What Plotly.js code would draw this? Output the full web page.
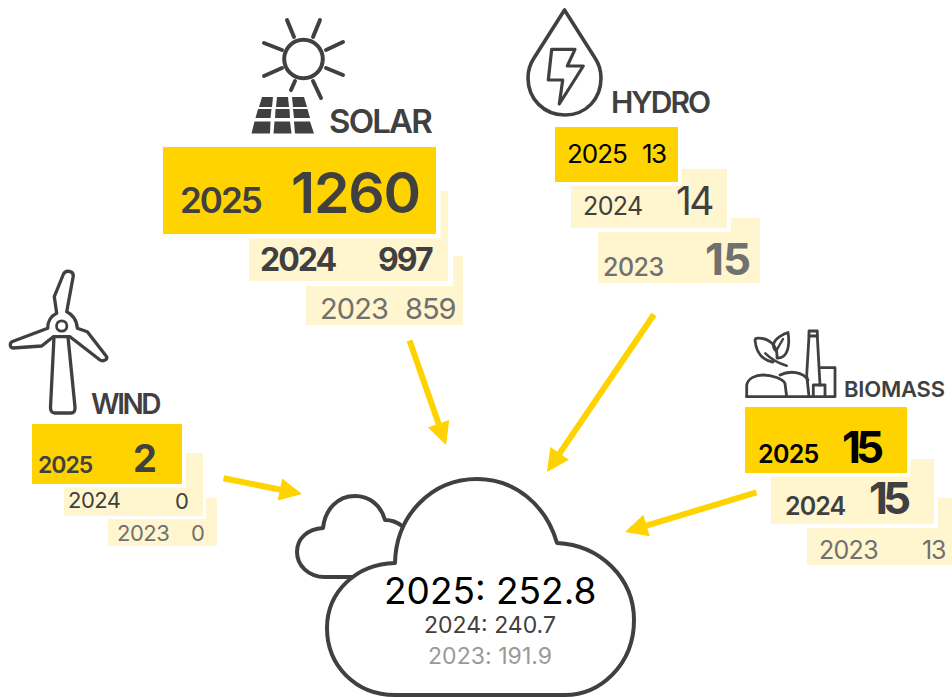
<!DOCTYPE html>
<html><head><meta charset="utf-8">
<script src="https://cdn.plot.ly/plotly-3.0.1.min.js"></script>
<style>
html,body{margin:0;padding:0;background:#fff;overflow:hidden}
#chart{width:952px;height:697px}
.shapelayer path{stroke-linecap:round;stroke-linejoin:round}
</style></head><body><div id="chart"></div>
<script>
// ---- data ----
const categories = ['SOLAR', 'HYDRO', 'WIND', 'BIOMASS'];
const years = ['2025', '2024', '2023'];
const solarValues = ['1260', '997', '859'];
const hydroValues = ['13', '14', '15'];
const windValues = ['2', '0', '0'];
const biomassValues = ['15', '15', '13'];
const totalValues = ['252.8', '240.7', '191.9'];

// ---- styles and placement ----
const YELLOW = '#FFD300', PALE = '#FFF5CF', DARK = '#404040', GREY = '#707070', LIGHT = '#999999', BLACK = '#000000';
const FONT = 'Inter, "Liberation Sans", sans-serif';

const shapes = [], annotations = [];
function rect(x0, y0, x1, y1, color) {
  shapes.push({type: 'rect', xref: 'x', yref: 'y', x0, y0, x1, y1, fillcolor: color, line: {width: 0}, layer: 'below'});
}
function stroke(path, w) {
  shapes.push({type: 'path', xref: 'x', yref: 'y', path, line: {color: DARK, width: w}, fillcolor: 'rgba(0,0,0,0)', layer: 'below'});
}
function fillPath(path, color) {
  shapes.push({type: 'path', xref: 'x', yref: 'y', path, line: {width: 0}, fillcolor: color, layer: 'below'});
}
function ring(cx, cy, r, w) {
  const k = r * 0.5523;
  stroke(`M ${cx + r} ${cy} C ${cx + r} ${cy + k} ${cx + k} ${cy + r} ${cx} ${cy + r} C ${cx - k} ${cy + r} ${cx - r} ${cy + k} ${cx - r} ${cy} C ${cx - r} ${cy - k} ${cx - k} ${cy - r} ${cx} ${cy - r} C ${cx + k} ${cy - r} ${cx + r} ${cy - k} ${cx + r} ${cy} Z`, w);
}
function label(text, x, y, size, weight, color, anchor, track) {
  const t = track ? '<span style="letter-spacing:' + track + 'px">' + text + '</span>' : text;
  annotations.push({text: t, x, y, xref: 'x', yref: 'y', xanchor: anchor, yanchor: 'middle', showarrow: false,
    font: {family: FONT, size, weight, color}, borderpad: 0, borderwidth: 0});
}
function arrow(ax, ay, x, y) {
  annotations.push({text: '', x, y, ax, ay, xref: 'x', yref: 'y', axref: 'x', ayref: 'y', showarrow: true,
    arrowhead: 2, arrowsize: 0.75, arrowwidth: 6, arrowcolor: YELLOW, standoff: 0});
}
function panels(p, pads) {
  rect(...p[2], PALE);
  rect(p[1][0] - pads[1], p[1][1] - pads[1], p[1][2] + pads[1], p[1][3] + pads[1], '#ffffff');
  rect(...p[1], PALE);
  rect(p[0][0] - pads[0], p[0][1] - pads[0], p[0][2] + pads[0], p[0][3] + pads[0], '#ffffff');
  rect(...p[0], YELLOW);
}
panels([[163, 147, 436, 234], [249, 191, 448, 281], [306, 256, 463, 325]], [4.5, 5]);
panels([[555, 127, 678, 182], [571, 169, 727, 228], [598, 218, 760, 283]], [3.5, 4]);
panels([[32, 424, 182, 484], [64, 453, 203, 516], [108, 498, 217, 546]], [3.5, 3]);
panels([[745, 407, 907, 473], [771, 459, 934, 524], [807, 498, 960, 565]], [3.5, 4]);

// Sun and panel
ring(303.5, 59, 19.3, 4);
[['287 20', '294 37'], ['320 20', '313 37'], ['264 43', '282 50'], ['343 42', '326 50'],
 ['264 76', '282 68'], ['326 68', '343 75'], ['295 81', '291 90'], ['313 81', '321 98']]
  .forEach(r => stroke('M ' + r[0] + ' L ' + r[1], 4));
['M 262 97 L 273 97 L 272 107 L 259 107 Z', 'M 277 97 L 288 97 L 289 107 L 276 107 Z', 'M 292 97 L 304 97 L 307 107 L 293 107 Z',
 'M 258 109 L 271.5 109 L 270.5 118 L 255.5 118 Z', 'M 275.5 109 L 289.5 109 L 290 118 L 275 118 Z', 'M 293 109 L 307.5 109 L 310 118 L 294 118 Z',
 'M 254.5 121.5 L 270.5 121.5 L 270 133.5 L 251.5 133.5 Z', 'M 274.5 121.5 L 290 121.5 L 291.5 133.5 L 273.5 133.5 Z', 'M 294 121.5 L 310 121.5 L 314 133.5 L 295 133.5 Z']
  .forEach(p => fillPath(p, DARK));

// Drop
stroke('M 564.5 10 L 534 58 C 530 64 528 70 528 78 C 528 99 544 115 565 115 C 586 115 601 99 601 78 C 601 70 599 64 595 58 Z', 3.6);
stroke('M 551.7 49.3 L 575 49.3 L 567.3 66 L 583.3 66 L 559.3 104 L 562.7 80 L 548.3 80 Z', 3.2);

// Turbine
stroke('M 66.7 311.7 L 73.3 276 C 73.5 271 66 269.5 63.5 274 L 54.3 296.7 L 56.7 313.3 C 51 316 47.5 322 47.7 328.3 L 12.5 341.5 C 9 343 10 348 13 348 L 41.7 346 L 53.3 336.7 L 70 336.7 L 100 360 C 103 362 108 359.5 106.5 356.5 L 87.3 331.7 L 77.3 328.3 C 77 320 72 314 66.7 311.7 Z', 3.3);
ring(61.7, 326, 5.2, 2.8);
stroke('M 54 337 L 50.5 407 C 50.3 411 52 413 55 413 L 71 413 C 74 413 75.3 411 75 407 L 68 337', 3.3);

// Biomass plant
stroke('M 746.7 396.7 L 835 396.7 L 835 367.7 L 820 367.7', 2.8);
stroke('M 746.7 396.7 L 746.7 385 C 748 378 756 375 763 375 C 772 375 783 379 785 383.5 L 786.7 396.7', 2.8);
stroke('M 780 375 C 790 370 803 372 808 380', 2.8);
stroke('M 809 396.7 L 806.7 375 L 809 336 L 809 331 L 817.3 331 L 817.3 336 L 820 385', 2.8);
stroke('M 809 336 L 817.3 336', 2.8);
stroke('M 813.3 396.7 L 813.3 385 L 825 385 L 825 396.7', 2.8);
stroke('M 773 362 C 762 360 756 352 755 340 L 756 338.3 C 768 337 778 345 777 358', 2.8);
stroke('M 765.3 353.3 C 771 359 778 363 786.7 365.7', 2.5);
stroke('M 778 358 C 788 358 790 345 788 332.5 C 778 336 770 343 775 350', 2.8);
stroke('M 776.7 350 L 783 339', 2.4);

// Clouds
stroke('M 352 577 L 325 577 C 308 577 297 565 297 552 C 297 538 308 529 323 528 C 325 509 338 496 355 496 C 369 496 381 505 385 520 C 391 520 397 522 402 526', 4);
stroke('M 395 563 C 396 515 432 479 477 479 C 515 479 546 505 557 543 C 600 545 634 578 634 620 C 634 665 600 695 565 695 L 395 695 C 355 695 327 665 327 628 C 327 592 356 564 395 563 Z', 4);

// Arrows
arrow(409, 339, 446, 445);
arrow(222, 478, 302, 494);
arrow(655, 313, 547, 472);
arrow(758, 492, 625, 532);

// Headings
label(categories[0], 329, 120.5, 33, 600, DARK, 'left', -1.8);
label(categories[1], 611, 102, 30, 600, DARK, 'left', -2);
label(categories[2], 91, 403.5, 28, 600, DARK, 'left', -2.4);
label(categories[3], 844, 389, 22, 600, DARK, 'left', -0.2);

function row(year, xy, ym, ys, yw, yc, value, xv, vm, vs, vw, vc, yt, vt) {
  label(year, xy, ym, ys, yw, yc, 'left', yt);
  label(value, xv, vm, vs, vw, vc, 'right', vt);
}
row(years[0], 179.5, 200, 35, 600, DARK, solarValues[0], 420, 192.5, 57, 600, DARK, -2, -1.2);
row(years[1], 260, 259, 32, 700, DARK, solarValues[1], 433, 259, 32, 700, DARK, -2, -2);
row(years[2], 320, 308, 29, 400, GREY, solarValues[2], 456, 308, 29, 400, GREY, -0.9, -1);

row(years[0], 566.5, 153.5, 26, 400, BLACK, hydroValues[0], 666, 153.5, 26, 400, BLACK, -1, -1.5);
row(years[1], 582.5, 206, 25, 400, DARK, hydroValues[1], 712, 200, 39, 400, DARK, -0.6, -2.5);
row(years[2], 602.5, 267, 25, 500, GREY, hydroValues[2], 750, 259, 44, 700, GREY, -0.5, -1);

row(years[0], 38, 464.5, 23, 600, DARK, windValues[0], 156.5, 458, 38, 700, DARK, -1, 0);
row(years[1], 68, 500, 22, 400, DARK, windValues[1], 189, 501, 22, 400, DARK, -0.5, 0);
row(years[2], 117, 533, 22, 400, GREY, windValues[2], 205, 533, 22, 400, GREY, -0.5, 0);

row(years[0], 758, 454, 25, 600, BLACK, biomassValues[0], 883, 447, 44, 700, BLACK, -0.7, -5);
row(years[1], 785, 505.5, 25, 600, DARK, biomassValues[1], 910, 498, 44, 700, DARK, -0.9, -5);
row(years[2], 819, 550, 25, 400, GREY, biomassValues[2], 945, 550, 25, 400, GREY, -0.7, -1.2);

// Cloud totals
label(years[0] + ': ' + totalValues[0], 489.5, 590, 37, 400, BLACK, 'center', 0);
label(years[1] + ': ' + totalValues[1], 489.5, 625, 23, 400, DARK, 'center', 0);
label(years[2] + ': ' + totalValues[2], 489.5, 655.5, 23, 400, LIGHT, 'center', 0.05);

const hidden = {visible: false, showgrid: false, zeroline: false, fixedrange: true};
Plotly.newPlot('chart', [], {
  width: 952, height: 697, margin: {l: 0, r: 0, t: 0, b: 0},
  paper_bgcolor: '#ffffff', plot_bgcolor: '#ffffff', showlegend: false,
  xaxis: Object.assign({range: [0, 952]}, hidden),
  yaxis: Object.assign({range: [697, 0]}, hidden),
  shapes, annotations
}, {displayModeBar: false, staticPlot: true});
</script></body></html>
